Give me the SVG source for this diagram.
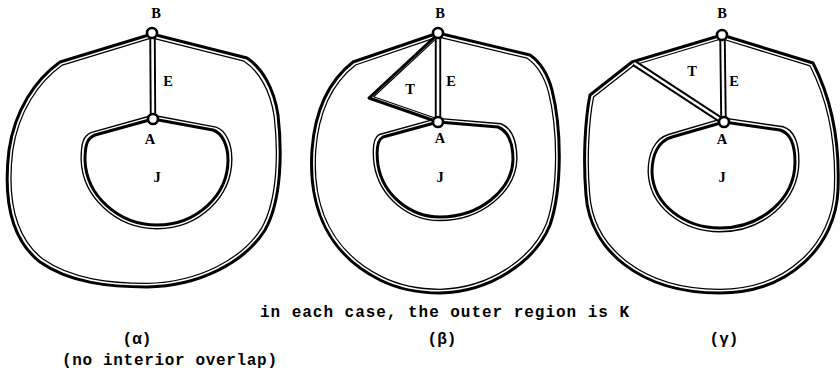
<svg xmlns="http://www.w3.org/2000/svg" xmlns:xlink="http://www.w3.org/1999/xlink" width="840" height="372" viewBox="0 0 840 372">
<style>
.thick{fill:none;stroke:#000;stroke-width:3;stroke-linejoin:round;stroke-linecap:round}
.thin{fill:none;stroke:#000;stroke-width:1.3;stroke-linejoin:round;stroke-linecap:round;vector-effect:non-scaling-stroke}
.bandB{fill:none;stroke:#000;stroke-width:6.4;stroke-linecap:butt;stroke-linejoin:miter}
.bandW{fill:none;stroke:#fff;stroke-width:2.6;stroke-linecap:butt;stroke-linejoin:miter}
.node{fill:#fff;stroke:#000;stroke-width:2.6}
.lbl{font-family:"Liberation Serif","DejaVu Serif",serif;font-weight:bold;font-size:14.5px;text-anchor:middle;fill:#000}
.cap{font-family:"Liberation Mono","DejaVu Sans Mono",monospace;font-weight:bold;font-size:16px;fill:#000}
</style>
<defs>
<path id="aOut" d="M152,34 L60,62 C35,80 15,110 9,150 C3,200 12,240 40,262 C70,283 110,287 147,287 C200,286 245,262 265,230 C282,200 282,150 278,115 C274,88 262,68 247,58 Z"/>
<path id="aIn" d="M153,119 L95,135 C87,138 85,145 85,160 C86,195 118,225 157,225 C197,225 228,195 228,160 C228,145 222,133 213,130 Z"/>
<path id="bOut" d="M438,33 L353,62 C330,80 315,110 312,150 C308,210 330,255 380,280 C400,290 420,293 440,293 C490,292 535,262 550,225 C562,190 562,130 552,90 C548,75 540,62 530,55 Z"/>
<path id="bIn" d="M438,122 L383,137 C377,140 376,150 378,165 C383,195 410,217 440,217 C480,217 512,190 513,160 C513,145 510,132 498,127 Z"/>
<path id="bT" d="M438,34 L369,98 L438,122"/>
<path id="gOut" d="M722,35 L632,62 L590,95 C585,120 583,160 586,195 C590,250 640,293 720,293 C790,293 836,245 838,190 C840,140 832,100 813,63 Z"/>
<path id="gIn" d="M724,122 L672,137 C658,141 652,155 652,172 C653,205 685,228 720,228 C760,228 795,200 795,162 C795,145 790,133 780,130 Z"/>
</defs>

<g id="fig-alpha">
  <g id="alpha-outer-boundary">
    <use xlink:href="#aOut" class="thick"/>
    <use xlink:href="#aOut" class="thin" transform="translate(143,165) scale(0.972,0.970) translate(-143,-165)"/>
  </g>
  <g id="alpha-J-boundary">
    <use xlink:href="#aIn" class="thick"/>
    <use xlink:href="#aIn" class="thin" transform="translate(157,172) scale(1.054,1.07) translate(-157,-172)"/>
  </g>
  <g id="alpha-connectors">
    <line x1="152.5" y1="36" x2="153" y2="117" class="bandB"/>
    <line x1="152.5" y1="36" x2="153" y2="117" class="bandW"/>
  </g>
  <g id="alpha-node-B"><circle cx="152" cy="33" r="5" class="node"/><text x="156" y="18" class="lbl">B</text></g>
  <g id="alpha-node-A"><circle cx="153" cy="119" r="5" class="node"/><text x="150" y="144" class="lbl">A</text></g>
  <g id="alpha-label-E"><text x="168" y="86" class="lbl">E</text></g>
  <g id="alpha-region-J"><text x="157" y="182" class="lbl">J</text></g>
</g>

<g id="fig-beta">
  <g id="beta-outer-boundary">
    <use xlink:href="#bOut" class="thick"/>
    <use xlink:href="#bOut" class="thin" transform="translate(436,165) scale(0.970,0.971) translate(-436,-165)"/>
  </g>
  <g id="beta-J-boundary">
    <use xlink:href="#bIn" class="thick"/>
    <use xlink:href="#bIn" class="thin" transform="translate(445,170) scale(1.057,1.076) translate(-445,-170)"/>
  </g>
  <g id="beta-connectors">
    <use xlink:href="#bT" class="thick"/>
    <use xlink:href="#bT" class="thin" transform="translate(415,85) scale(0.9,0.9) translate(-415,-85)"/>
    <line x1="438" y1="36" x2="438" y2="120" class="bandB"/>
    <line x1="438" y1="36" x2="438" y2="120" class="bandW"/>
  </g>
  <g id="beta-node-B"><circle cx="438" cy="33" r="5" class="node"/><text x="440" y="18" class="lbl">B</text></g>
  <g id="beta-node-A"><circle cx="438" cy="122" r="5" class="node"/><text x="440" y="143" class="lbl">A</text></g>
  <g id="beta-label-E"><text x="451" y="86" class="lbl">E</text></g>
  <g id="beta-region-T"><text x="410" y="94" class="lbl">T</text></g>
  <g id="beta-region-J"><text x="440" y="182" class="lbl">J</text></g>
</g>

<g id="fig-gamma">
  <g id="gamma-outer-boundary">
    <use xlink:href="#gOut" class="thick"/>
    <use xlink:href="#gOut" class="thin" transform="translate(712,165) scale(0.971,0.971) translate(-712,-165)"/>
  </g>
  <g id="gamma-J-boundary">
    <use xlink:href="#gIn" class="thick"/>
    <use xlink:href="#gIn" class="thin" transform="translate(723,175) scale(1.054,1.072) translate(-723,-175)"/>
  </g>
  <g id="gamma-connectors">
    <line x1="634" y1="63" x2="721" y2="120" class="bandB"/>
    <line x1="634" y1="63" x2="721" y2="120" class="bandW"/>
    <line x1="722.5" y1="38" x2="723.5" y2="120" class="bandB"/>
    <line x1="722.5" y1="38" x2="723.5" y2="120" class="bandW"/>
  </g>
  <g id="gamma-node-B"><circle cx="722" cy="35" r="5" class="node"/><text x="722" y="18" class="lbl">B</text></g>
  <g id="gamma-node-A"><circle cx="724" cy="122" r="5" class="node"/><text x="722" y="144" class="lbl">A</text></g>
  <g id="gamma-label-E"><text x="734" y="86" class="lbl">E</text></g>
  <g id="gamma-region-T"><text x="692" y="76" class="lbl">T</text></g>
  <g id="gamma-region-J"><text x="722" y="182" class="lbl">J</text></g>
</g>

<g id="captions">
  <text x="260" y="317" class="cap" textLength="369" lengthAdjust="spacing">in each case, the outer region is K</text>
  <text x="137" y="344" class="cap" text-anchor="middle">(α)</text>
  <text x="62" y="365" class="cap" textLength="215" lengthAdjust="spacing">(no interior overlap)</text>
  <text x="442" y="344" class="cap" text-anchor="middle">(β)</text>
  <text x="724" y="344" class="cap" text-anchor="middle">(γ)</text>
</g>
</svg>
